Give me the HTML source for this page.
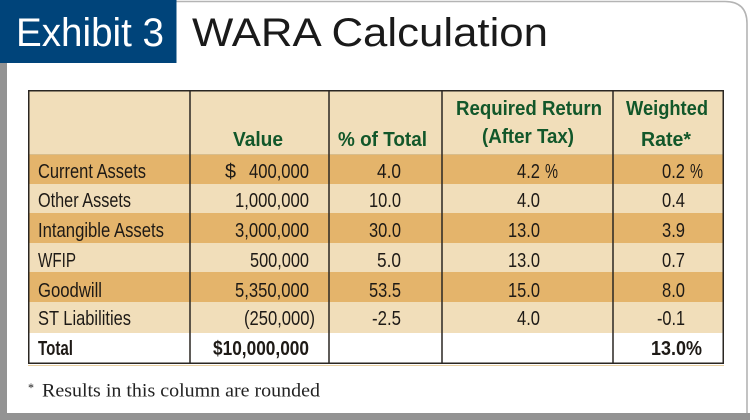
<!DOCTYPE html>
<html><head><meta charset="utf-8"><style>
html,body{margin:0;padding:0;background:#fff;}
svg{display:block;}
.t{font-family:"Liberation Sans",Arial,sans-serif;font-size:20.5px;fill:#1e1a16;}
.b{font-weight:bold;}
.h{font-family:"Liberation Sans",Arial,sans-serif;font-size:20.5px;font-weight:bold;fill:#12572a;}
</style></head><body>
<svg width="750" height="420" viewBox="0 0 750 420" xmlns="http://www.w3.org/2000/svg">
<rect x="0" y="0" width="750" height="420" fill="#ffffff"/>
<!-- card border -->
<path d="M176 1.5 H725 Q747 1.5 747 23.5 V414" fill="none" stroke="#b4b4b4" stroke-width="1.6"/>
<!-- gray shadows -->
<rect x="0" y="63" width="7" height="357" fill="#939393"/>
<rect x="0" y="413" width="750" height="7" fill="#939393"/>
<!-- blue box -->
<rect x="0" y="0" width="176.5" height="63" fill="#00447a"/>
<text x="16" y="46" font-family="'Liberation Sans',Arial,sans-serif" font-size="40" fill="#ffffff" textLength="148" lengthAdjust="spacingAndGlyphs">Exhibit 3</text>
<text x="192" y="46" font-family="'Liberation Sans',Arial,sans-serif" font-size="40" fill="#1a1a1a" textLength="356" lengthAdjust="spacingAndGlyphs">WARA Calculation</text>

<!-- table backgrounds -->
<rect x="28" y="90" width="696" height="65" fill="#f1deba"/>
<rect x="28" y="155" width="696" height="29" fill="#e4b46b"/>
<rect x="28" y="184" width="696" height="29" fill="#f1deba"/>
<rect x="28" y="213" width="696" height="30" fill="#e4b46b"/>
<rect x="28" y="243" width="696" height="29" fill="#f1deba"/>
<rect x="28" y="272" width="696" height="30" fill="#e4b46b"/>
<rect x="28" y="302" width="696" height="31" fill="#f1deba"/>
<rect x="28" y="333" width="696" height="31" fill="#ffffff"/>
<line x1="28" y1="154.5" x2="724" y2="154.5" stroke="#d8bd8c" stroke-width="1"/>
<line x1="28" y1="365.5" x2="724" y2="365.5" stroke="#e8cfa0" stroke-width="1"/>
<!-- grid lines -->
<g stroke="#2a2622" stroke-width="1.5">
<rect x="28.75" y="90.75" width="694.5" height="272.5" fill="none"/>
<line x1="190" y1="90" x2="190" y2="364"/>
<line x1="329" y1="90" x2="329" y2="364"/>
<line x1="442" y1="90" x2="442" y2="364"/>
<line x1="613" y1="90" x2="613" y2="364"/>
</g>

<!-- headers -->
<text class="h" x="233" y="146" textLength="50" lengthAdjust="spacingAndGlyphs">Value</text>
<text class="h" x="338" y="146" textLength="89" lengthAdjust="spacingAndGlyphs">% of Total</text>
<text class="h" x="456" y="115" textLength="146" lengthAdjust="spacingAndGlyphs">Required Return</text>
<text class="h" x="482" y="143" textLength="92" lengthAdjust="spacingAndGlyphs">(After Tax)</text>
<text class="h" x="626" y="115" textLength="82" lengthAdjust="spacingAndGlyphs">Weighted</text>
<text class="h" x="641" y="146" textLength="50" lengthAdjust="spacingAndGlyphs">Rate*</text>

<!-- row labels -->
<text class="t" x="38" y="178" textLength="108" lengthAdjust="spacingAndGlyphs">Current Assets</text>
<text class="t" x="38" y="207" textLength="93" lengthAdjust="spacingAndGlyphs">Other Assets</text>
<text class="t" x="38" y="237" textLength="126" lengthAdjust="spacingAndGlyphs">Intangible Assets</text>
<text class="t" x="38" y="267" textLength="38" lengthAdjust="spacingAndGlyphs">WFIP</text>
<text class="t" x="38" y="297" textLength="64" lengthAdjust="spacingAndGlyphs">Goodwill</text>
<text class="t" x="38" y="325" textLength="93" lengthAdjust="spacingAndGlyphs">ST Liabilities</text>
<text class="t b" x="38" y="355" textLength="35" lengthAdjust="spacingAndGlyphs">Total</text>

<!-- value column -->
<text class="t" x="225" y="178" textLength="11" lengthAdjust="spacingAndGlyphs">$</text>
<text class="t" x="249" y="178" textLength="60" lengthAdjust="spacingAndGlyphs">400,000</text>
<text class="t" x="235" y="207" textLength="74" lengthAdjust="spacingAndGlyphs">1,000,000</text>
<text class="t" x="235" y="237" textLength="74" lengthAdjust="spacingAndGlyphs">3,000,000</text>
<text class="t" x="250" y="267" textLength="59" lengthAdjust="spacingAndGlyphs">500,000</text>
<text class="t" x="235" y="297" textLength="74" lengthAdjust="spacingAndGlyphs">5,350,000</text>
<text class="t" x="244" y="325" textLength="71" lengthAdjust="spacingAndGlyphs">(250,000)</text>
<text class="t b" x="213" y="355" textLength="96" lengthAdjust="spacingAndGlyphs">$10,000,000</text>

<!-- % of total -->
<text class="t" x="377" y="178" textLength="24" lengthAdjust="spacingAndGlyphs">4.0</text>
<text class="t" x="369" y="207" textLength="32" lengthAdjust="spacingAndGlyphs">10.0</text>
<text class="t" x="369" y="237" textLength="32" lengthAdjust="spacingAndGlyphs">30.0</text>
<text class="t" x="377" y="267" textLength="24" lengthAdjust="spacingAndGlyphs">5.0</text>
<text class="t" x="369" y="297" textLength="32" lengthAdjust="spacingAndGlyphs">53.5</text>
<text class="t" x="372" y="325" textLength="29" lengthAdjust="spacingAndGlyphs">-2.5</text>

<!-- required return -->
<text class="t" x="517" y="178" textLength="23" lengthAdjust="spacingAndGlyphs">4.2</text>
<text class="t" x="545" y="178" textLength="13" lengthAdjust="spacingAndGlyphs">%</text>
<text class="t" x="517" y="207" textLength="23" lengthAdjust="spacingAndGlyphs">4.0</text>
<text class="t" x="508" y="237" textLength="32" lengthAdjust="spacingAndGlyphs">13.0</text>
<text class="t" x="508" y="267" textLength="32" lengthAdjust="spacingAndGlyphs">13.0</text>
<text class="t" x="508" y="297" textLength="32" lengthAdjust="spacingAndGlyphs">15.0</text>
<text class="t" x="517" y="325" textLength="23" lengthAdjust="spacingAndGlyphs">4.0</text>

<!-- weighted rate -->
<text class="t" x="662" y="178" textLength="23" lengthAdjust="spacingAndGlyphs">0.2</text>
<text class="t" x="690" y="178" textLength="13" lengthAdjust="spacingAndGlyphs">%</text>
<text class="t" x="662" y="207" textLength="23" lengthAdjust="spacingAndGlyphs">0.4</text>
<text class="t" x="662" y="237" textLength="23" lengthAdjust="spacingAndGlyphs">3.9</text>
<text class="t" x="662" y="267" textLength="23" lengthAdjust="spacingAndGlyphs">0.7</text>
<text class="t" x="662" y="297" textLength="23" lengthAdjust="spacingAndGlyphs">8.0</text>
<text class="t" x="657" y="325" textLength="28" lengthAdjust="spacingAndGlyphs">-0.1</text>
<text class="t b" x="651" y="355" textLength="51" lengthAdjust="spacingAndGlyphs">13.0%</text>

<!-- footnote -->
<text x="28" y="392" font-family="'Liberation Serif','Times New Roman',serif" font-size="13" fill="#222" textLength="6" lengthAdjust="spacingAndGlyphs">*</text>
<text x="42" y="396.5" font-family="'Liberation Serif','Times New Roman',serif" font-size="18.5" fill="#222" textLength="278" lengthAdjust="spacingAndGlyphs">Results in this column are rounded</text>
</svg>
</body></html>
